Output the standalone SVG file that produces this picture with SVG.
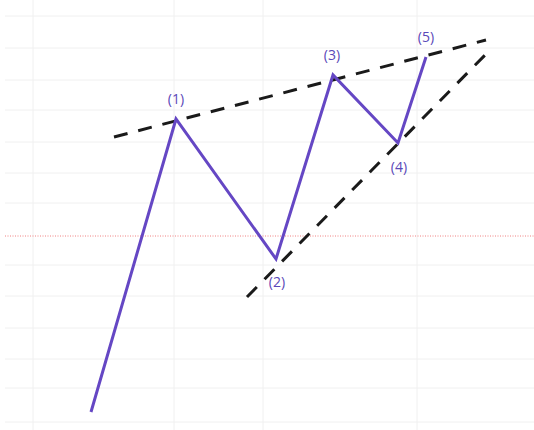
<svg xmlns="http://www.w3.org/2000/svg" width="534" height="430" viewBox="0 0 534 430">
<style>
.grid{stroke:#f0f0f0;stroke-width:1}
.trend{fill:none;stroke:#1a1a1a;stroke-width:3;stroke-dasharray:14 11}
.wave{fill:none;stroke:#6547c4;stroke-width:3;stroke-linejoin:miter}
.lbl{font-family:"Open Sans","Liberation Sans",sans-serif;font-size:14px;fill:#5a48b8;text-anchor:middle}
</style>
<rect width="534" height="430" fill="#ffffff"/>
<g id="grid">
<line class="grid" x1="33" y1="0" x2="33" y2="430"/>
<line class="grid" x1="174" y1="0" x2="174" y2="430"/>
<line class="grid" x1="263" y1="0" x2="263" y2="430"/>
<line class="grid" x1="417" y1="0" x2="417" y2="430"/>
<line class="grid" x1="5" y1="16" x2="534" y2="16"/>
<line class="grid" x1="5" y1="48" x2="534" y2="48"/>
<line class="grid" x1="5" y1="80" x2="534" y2="80"/>
<line class="grid" x1="5" y1="110" x2="534" y2="110"/>
<line class="grid" x1="5" y1="142" x2="534" y2="142"/>
<line class="grid" x1="5" y1="173" x2="534" y2="173"/>
<line class="grid" x1="5" y1="203" x2="534" y2="203"/>
<line class="grid" x1="5" y1="265" x2="534" y2="265"/>
<line class="grid" x1="5" y1="296" x2="534" y2="296"/>
<line class="grid" x1="5" y1="328" x2="534" y2="328"/>
<line class="grid" x1="5" y1="359" x2="534" y2="359"/>
<line class="grid" x1="5" y1="388" x2="534" y2="388"/>
<line class="grid" x1="5" y1="422" x2="534" y2="422"/>
<line x1="5" y1="236" x2="534" y2="236" stroke="#f08080" stroke-width="1" stroke-dasharray="1 1.5"/>
</g>
<g id="connectors">
<line id="upper-trend" class="trend" x1="114" y1="137" x2="486" y2="40"/>
<line id="lower-trend" class="trend" x1="247" y1="297" x2="490" y2="50"/>
<polyline id="wave" class="wave" points="91,412 176,119 276,259 333,75 398,143 426,57"/>
</g>
<g id="p1"><text class="lbl" x="176" y="104">(1)</text></g>
<g id="p2"><text class="lbl" x="277" y="287">(2)</text></g>
<g id="p3"><text class="lbl" x="332" y="60">(3)</text></g>
<g id="p4"><text class="lbl" x="399" y="172">(4)</text></g>
<g id="p5"><text class="lbl" x="426" y="42">(5)</text></g>
</svg>
